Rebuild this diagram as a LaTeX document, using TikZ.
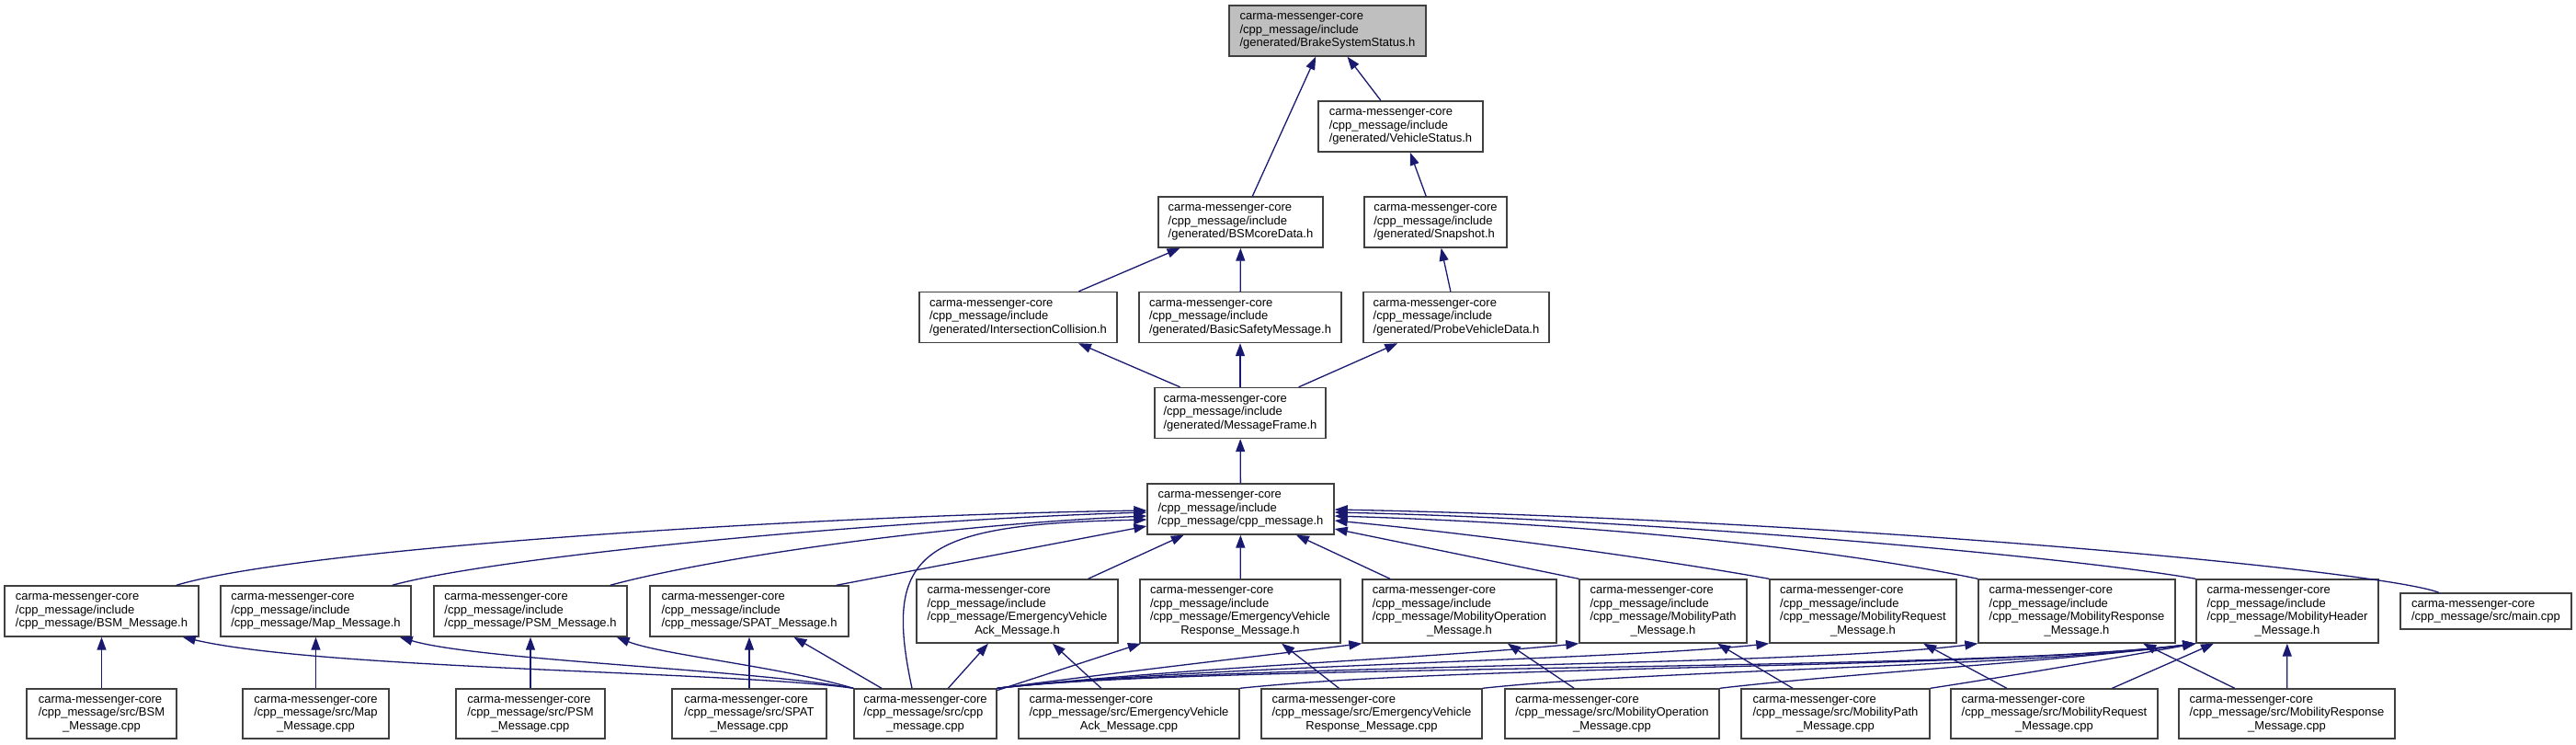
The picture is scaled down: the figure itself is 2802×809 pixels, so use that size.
\documentclass[tikz,border=0pt]{standalone}
\usepackage{fontspec}
\setmainfont{Liberation Sans}
\usepackage{tikz}
\usetikzlibrary{arrows.meta,calc}
\definecolor{edgeblue}{HTML}{191970}
\definecolor{boxline}{HTML}{404040}
\definecolor{topfill}{HTML}{BFBFBF}
\newcommand{\flabel}[1]{\begin{tabular}{@{}l@{}}#1\end{tabular}}
\newcommand{\lastc}[1]{\multicolumn{1}{@{}c@{}}{#1}}
\newcommand{\cmcore}{carma-messenger-core}
\newcommand{\cmincl}{/cpp\_message/include}
\newcommand{\cmsrc}{/cpp\_message/src/}

\begin{document}
\begin{tikzpicture}[x=0.5pt,y=-0.5pt,
    filenode/.style={draw=boxline, line width=0.7pt, fill=white, rectangle, inner sep=0pt,
        minimum height=27.5pt, font=\fontsize{6.5pt}{7.25pt}\selectfont},
    tallnode/.style={filenode, minimum height=34.5pt},
    dep/.style={draw=edgeblue, line width=0.65pt, -{Triangle[length=7pt,width=5pt]}}]
                \useasboundingbox (0,0) rectangle (2802,809);
                % generated headers
                \node[filenode, fill=topfill, minimum width=107pt] (bss) at (1444,33.5) {\flabel{\cmcore\\\cmincl\\/generated/BrakeSystemStatus.h}};
                \node[filenode, minimum width=89.5pt] (vs) at (1523.5,137.5) {\flabel{\cmcore\\\cmincl\\/generated/VehicleStatus.h}};
                \node[filenode, minimum width=89.5pt] (bsmcore) at (1349.5,241.5) {\flabel{\cmcore\\\cmincl\\/generated/BSMcoreData.h}};
                \node[filenode, minimum width=77.5pt] (snap) at (1561.5,241.5) {\flabel{\cmcore\\\cmincl\\/generated/Snapshot.h}};
                \node[filenode, minimum width=107.5pt] (ic) at (1107.5,345) {\flabel{\cmcore\\\cmincl\\/generated/IntersectionCollision.h}};
                \node[filenode, minimum width=110pt] (bsafe) at (1349,345) {\flabel{\cmcore\\\cmincl\\/generated/BasicSafetyMessage.h}};
                \node[filenode, minimum width=101pt] (pvd) at (1584,345) {\flabel{\cmcore\\\cmincl\\/generated/ProbeVehicleData.h}};
                \node[filenode, minimum width=93pt] (mf) at (1349,449) {\flabel{\cmcore\\\cmincl\\/generated/MessageFrame.h}};
                \node[filenode, minimum width=101.5pt] (cpph) at (1349.5,553.5) {\flabel{\cmcore\\\cmincl\\/cpp\_message/cpp\_message.h}};
                % message headers
                \node[filenode, minimum width=105.5pt] (bsmh) at (110.5,664.5) {\flabel{\cmcore\\\cmincl\\/cpp\_message/BSM\_Message.h}};
                \node[filenode, minimum width=103.5pt] (maph) at (343.5,664.5) {\flabel{\cmcore\\\cmincl\\/cpp\_message/Map\_Message.h}};
                \node[filenode, minimum width=105pt] (psmh) at (577,664.5) {\flabel{\cmcore\\\cmincl\\/cpp\_message/PSM\_Message.h}};
                \node[filenode, minimum width=108pt] (spath) at (815,664.5) {\flabel{\cmcore\\\cmincl\\/cpp\_message/SPAT\_Message.h}};
                \node[tallnode, minimum width=109.5pt] (evackh) at (1106.5,664.5) {\flabel{\cmcore\\\cmincl\\/cpp\_message/EmergencyVehicle\\\lastc{Ack\_Message.h}}};
                \node[tallnode, minimum width=109pt] (evresph) at (1349,664.5) {\flabel{\cmcore\\\cmincl\\/cpp\_message/EmergencyVehicle\\\lastc{Response\_Message.h}}};
                \node[tallnode, minimum width=105.5pt] (mobOph) at (1587.5,664.5) {\flabel{\cmcore\\\cmincl\\/cpp\_message/MobilityOperation\\\lastc{\_Message.h}}};
                \node[tallnode, minimum width=91pt] (mobPathh) at (1809,664.5) {\flabel{\cmcore\\\cmincl\\/cpp\_message/MobilityPath\\\lastc{\_Message.h}}};
                \node[tallnode, minimum width=101.5pt] (mobReqh) at (2026.5,664.5) {\flabel{\cmcore\\\cmincl\\/cpp\_message/MobilityRequest\\\lastc{\_Message.h}}};
                \node[tallnode, minimum width=107pt] (mobResph) at (2259,664.5) {\flabel{\cmcore\\\cmincl\\/cpp\_message/MobilityResponse\\\lastc{\_Message.h}}};
                \node[tallnode, minimum width=99pt] (mobHeadh) at (2488,664.5) {\flabel{\cmcore\\\cmincl\\/cpp\_message/MobilityHeader\\\lastc{\_Message.h}}};
                \node[filenode, minimum width=93pt, minimum height=19.5pt] (main) at (2704,664.5) {\flabel{\cmcore\\\cmsrc main.cpp}};
                % sources
                \node[filenode, minimum width=81.5pt, minimum height=27pt] (bsmcpp) at (110.5,776) {\flabel{\cmcore\\\cmsrc BSM\\\lastc{\_Message.cpp}}};
                \node[filenode, minimum width=79.5pt, minimum height=27pt] (mapcpp) at (343.5,776) {\flabel{\cmcore\\\cmsrc Map\\\lastc{\_Message.cpp}}};
                \node[filenode, minimum width=81pt, minimum height=27pt] (psmcpp) at (577,776) {\flabel{\cmcore\\\cmsrc PSM\\\lastc{\_Message.cpp}}};
                \node[filenode, minimum width=84pt, minimum height=27pt] (spatcpp) at (815,776) {\flabel{\cmcore\\\cmsrc SPAT\\\lastc{\_Message.cpp}}};
                \node[filenode, minimum width=77.5pt, minimum height=27pt] (cppcpp) at (1006.5,776) {\flabel{\cmcore\\\cmsrc cpp\\\lastc{\_message.cpp}}};
                \node[filenode, minimum width=120pt, minimum height=27pt] (evackcpp) at (1228,776) {\flabel{\cmcore\\\cmsrc EmergencyVehicle\\\lastc{Ack\_Message.cpp}}};
                \node[filenode, minimum width=120pt, minimum height=27pt] (evrespcpp) at (1492,776) {\flabel{\cmcore\\\cmsrc EmergencyVehicle\\\lastc{Response\_Message.cpp}}};
                \node[filenode, minimum width=116.5pt, minimum height=27pt] (mobOpcpp) at (1753.5,776) {\flabel{\cmcore\\\cmsrc MobilityOperation\\\lastc{\_Message.cpp}}};
                \node[filenode, minimum width=102.5pt, minimum height=27pt] (mobPathcpp) at (1996.5,776) {\flabel{\cmcore\\\cmsrc MobilityPath\\\lastc{\_Message.cpp}}};
                \node[filenode, minimum width=112.5pt, minimum height=27pt] (mobReqcpp) at (2234.5,776) {\flabel{\cmcore\\\cmsrc MobilityRequest\\\lastc{\_Message.cpp}}};
                \node[filenode, minimum width=117.5pt, minimum height=27pt] (mobRespcpp) at (2487.5,776) {\flabel{\cmcore\\\cmsrc MobilityResponse\\\lastc{\_Message.cpp}}};

                \draw[dep] (vs) -- (bss);
                \draw[dep] (bsmcore) -- (bss);
                \draw[dep] (snap) -- (vs);
                \draw[dep] (ic) -- (bsmcore);
                \draw[dep] (bsafe) -- (bsmcore);
                \draw[dep] (pvd) -- (snap);
                \draw[dep] (mf) -- (ic);
                \draw[dep] (mf) -- (bsafe);
                \draw[dep] (mf) -- (pvd);
                \draw[dep] (cpph) -- (mf);

                \draw[dep] ($(bsmh.north east)+(-25,0)$) .. controls (330,595) and (900,560) .. ($(cpph.west)+(0,1.5)$);
                \draw[dep] ($(maph.north east)+(-21,0)$) .. controls (540,605) and (950,566) .. ($(cpph.west)+(0,3.5)$);
                \draw[dep] ($(psmh.north east)+(-19,0)$) .. controls (760,610) and (1000,572) .. ($(cpph.west)+(0,7.5)$);
                \draw[dep] ($(spath.north east)+(-14,0)$) -- ($(cpph.west)+(0,18.5)$);
                \draw[dep] ($(cppcpp.north)+(-14.5,0)$) .. controls (960,600) and (1000,570) .. ($(cpph.west)+(0,11.5)$);
                \draw[dep] (evackh) -- (cpph);
                \draw[dep] (evresph) -- (cpph);
                \draw[dep] (mobOph) -- (cpph);
                \draw[dep] (mobPathh.north west) -- ($(cpph.east)+(0,21.5)$);
                \draw[dep] (mobReqh.north west) .. controls (1800,607) and (1600,580) .. ($(cpph.east)+(0,12.5)$);
                \draw[dep] (mobResph.north west) .. controls (2000,598) and (1750,570) .. ($(cpph.east)+(0,7.5)$);
                \draw[dep] (mobHeadh.north west) .. controls (2250,605) and (1800,565) .. ($(cpph.east)+(0,3.5)$);
                \draw[dep] ($(main.north)+(-51,0)$) .. controls (2590,620) and (2000,565) .. ($(cpph.east)+(0,0.5)$);

                \draw[dep] (bsmcpp) -- (bsmh);
                \draw[dep] (mapcpp) -- (maph);
                \draw[dep] (psmcpp) -- (psmh);
                \draw[dep] (spatcpp) -- (spath);
                \draw[dep] (cppcpp.north west) .. controls (800,730) and (350,728) .. ($(bsmh.south east)+(-18,0)$);
                \draw[dep] (cppcpp.north west) .. controls (820,728) and (520,718) .. ($(maph.south east)+(-13,0)$);
                \draw[dep] (cppcpp.north west) .. controls (850,725) and (720,712) .. ($(psmh.south east)+(-12,0)$);
                \draw[dep] (cppcpp) -- (spath);
                \draw[dep] (cppcpp) -- (evackh);
                \draw[dep] (evackcpp) -- (evackh);
                \draw[dep] (cppcpp) -- (evresph);
                \draw[dep] (evrespcpp) -- (evresph);
                \draw[dep] (cppcpp.north east) .. controls (1200,733) and (1380,712) .. (mobOph.south west);
                \draw[dep] (mobOpcpp) -- (mobOph);
                \draw[dep] (cppcpp.north east) .. controls (1300,725) and (1550,716) .. (mobPathh.south west);
                \draw[dep] (mobPathcpp) -- (mobPathh);
                \draw[dep] (cppcpp.north east) .. controls (1300,724) and (1750,718) .. (mobReqh.south west);
                \draw[dep] (mobReqcpp) -- (mobReqh);
                \draw[dep] (cppcpp.north east) .. controls (1300,723) and (1950,725) .. (mobResph.south west);
                \draw[dep] (mobRespcpp) -- (mobResph);
                \draw[dep] (cppcpp.north east) .. controls (1300,722) and (2150,730) .. (mobHeadh.south west);
                \draw[dep] (evackcpp.north east) .. controls (1600,722) and (2150,728) .. (mobHeadh.south west);
                \draw[dep] (evrespcpp.north east) .. controls (1800,728) and (2200,725) .. (mobHeadh.south west);
                \draw[dep] (mobOpcpp.north east) .. controls (2000,733) and (2250,718) .. (mobHeadh.south west);
                \draw[dep] (mobPathcpp.north east) .. controls (2200,733) and (2320,712) .. (mobHeadh.south west);
                \draw[dep] (mobReqcpp) -- (mobHeadh);
                \draw[dep] (mobRespcpp) -- (mobHeadh);
\end{tikzpicture}
\end{document}
